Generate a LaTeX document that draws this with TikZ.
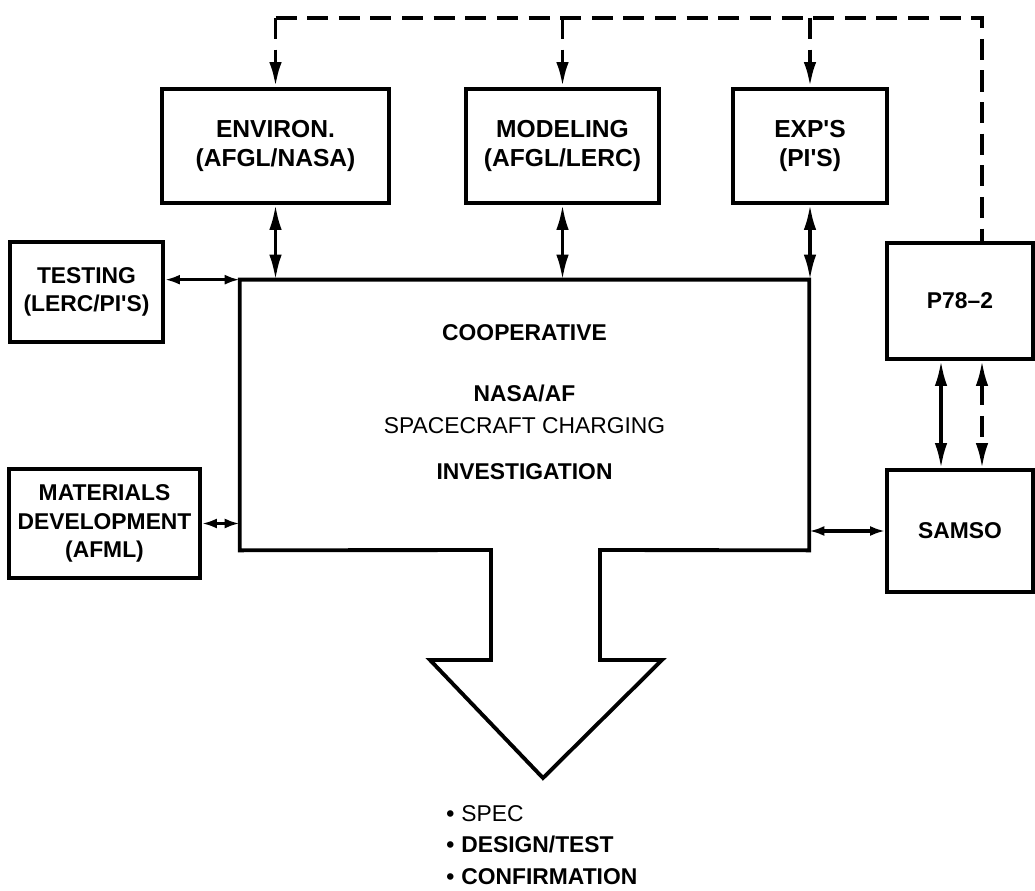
\documentclass[tikz,border=0pt]{standalone}
\usepackage{fontspec}
\setmainfont{Liberation Sans}
\usetikzlibrary{arrows.meta}

\begin{document}
\begin{tikzpicture}[x=0.02cm, y=-0.02cm,
    >={Latex[length=5mm, width=2.5mm]},
    box/.style={draw, line width=2.2pt, align=center, inner sep=0pt, font=\fontsize{13}{16}\selectfont\bfseries},
    arr/.style={<->, line width=1.8pt},
    shortarr/.style={{Latex[length=3mm, width=2mm]}-{Latex[length=3mm, width=2mm]}, line width=1.8pt},
    dashln/.style={line width=2.2pt, dash pattern=on 12pt off 6pt},
    txt/.style={align=center, inner sep=0pt, font=\fontsize{13}{16}\selectfont\bfseries}
]
\useasboundingbox (0,0) rectangle (1035,891);

% top row
\node[box, font=\fontsize{14}{17}\selectfont\bfseries, minimum width=4.54cm, minimum height=2.28cm] (env) at (275.5,146) {ENVIRON.\\(AFGL/NASA)};
\node[box, font=\fontsize{14}{17}\selectfont\bfseries, minimum width=3.86cm, minimum height=2.28cm] (model) at (562.5,146) {MODELING\\(AFGL/LERC)};
\node[box, font=\fontsize{14}{17}\selectfont\bfseries, minimum width=3.08cm, minimum height=2.28cm] (exps) at (810,146) {EXP\textquotesingle S\\(PI\textquotesingle S)};

% sides
\node[box, minimum width=3.06cm, minimum height=2.0cm] (testing) at (86.5,292) {TESTING\\(LERC/PI\textquotesingle S)};
\node[box, minimum width=3.82cm, minimum height=2.18cm] (mat) at (104.5,523.5) {MATERIALS\\DEVELOPMENT\\(AFML)};
\node[box, minimum width=2.92cm, minimum height=2.32cm] (p78) at (960,301) {P78--2};
\node[box, minimum width=2.92cm, minimum height=2.44cm] (samso) at (960,531) {SAMSO};

% main block with output arrow
\node[minimum width=11.38cm, minimum height=5.4cm, inner sep=0pt] (coop) at (524.5,415) {};
\draw[line width=2.2pt] (coop.north west) -- (coop.north east) -- (coop.south east)
    -- (600,550) -- (600,660) -- (662,660) -- (543,778) -- (430,660) -- (491,660)
    -- (491,550) -- (coop.south west) -- cycle;
\node[txt] (title) at (524.5,402) {COOPERATIVE\\[19pt]NASA/AF\\[2pt]{\mdseries SPACECRAFT CHARGING}\\[10pt]INVESTIGATION};

\node[txt, align=left, anchor=north west, font=\fontsize{13}{18}\selectfont\bfseries] (results) at (446,805)
    {\textbullet\hspace{4pt}{\mdseries SPEC}\\\textbullet\hspace{4pt}DESIGN/TEST\\\textbullet\hspace{4pt}CONFIRMATION};

% dashed link
\coordinate (busL) at (275.5,18);
\coordinate (busR) at (982,18);
\draw[dashln] (busL) -- (busR) -- (busR |- p78.north);
\draw[dashln, ->] (busL) -- (env.north);
\draw[dashln, ->] (model.north |- busL) -- (model.north);
\draw[dashln, ->] (exps.north |- busL) -- (exps.north);

% solid links
\draw[arr] (env.south) -- (env.south |- coop.north);
\draw[arr] (model.south) -- (model.south |- coop.north);
\draw[arr] (exps.south) -- (exps.south |- coop.north);
\draw[shortarr] (testing.east |- coop.north) -- (coop.north west);
\draw[shortarr] (mat.east) -- (mat.east -| coop.west);
\draw[shortarr] (coop.east |- samso.west) -- (samso.west);
\draw[arr] ([xshift=-0.38cm]p78.south) -- ([xshift=-0.38cm]samso.north);
\draw[arr, dash pattern=on 12pt off 6pt] ([xshift=0.44cm]p78.south) -- ([xshift=0.44cm]samso.north);
\end{tikzpicture}
\end{document}
